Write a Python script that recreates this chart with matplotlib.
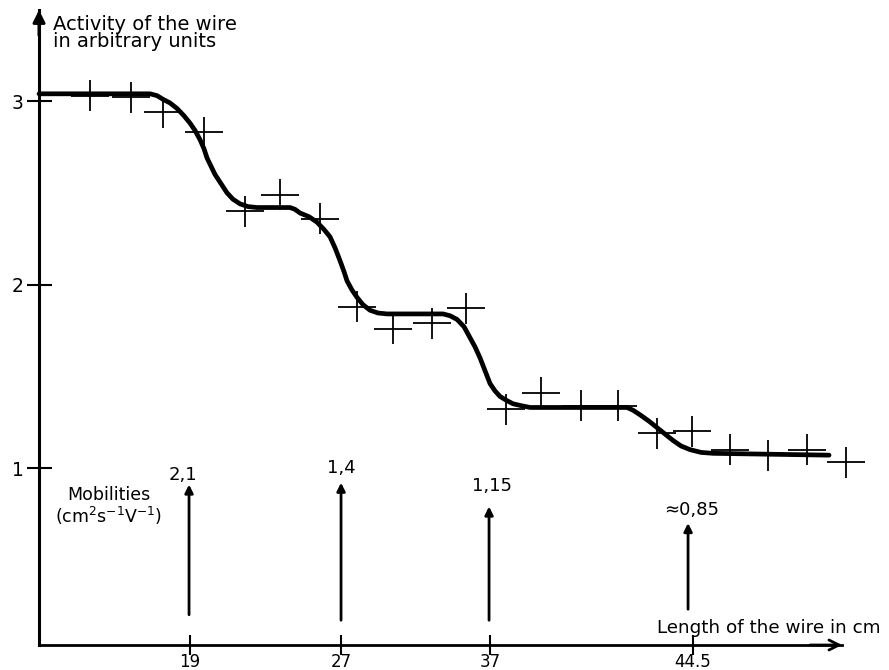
import numpy as np
import matplotlib
matplotlib.use('Agg')
import matplotlib.pyplot as plt

# x is in chart units along the wire (the printed cm scale is not linear)
point_x = [5.1, 9.2, 12.4, 16.5, 20.6, 24.1, 28.1, 31.8, 35.4, 39.3, 42.7,
           46.7, 50.2, 54.2, 57.9, 61.8, 65.3, 69.1, 72.9, 76.8, 80.7]
point_y = [3.03, 3.02, 2.94, 2.83, 2.40, 2.49, 2.36, 1.88, 1.76, 1.79, 1.87,
           1.32, 1.41, 1.34, 1.34, 1.19, 1.20, 1.10, 1.07, 1.10, 1.03]

curve_x = [0.0, 11.1, 11.8, 12.4, 13.1, 13.8, 14.5, 15.1, 15.6, 16.1, 16.5,
           16.8, 17.2, 17.6, 18.2, 18.8, 19.4, 20.1, 20.9, 21.8,
           25.1, 25.6, 26.1, 27.0, 27.8, 28.5, 29.1, 29.6, 30.1, 30.5, 30.8,
           31.3, 31.8, 32.4, 33.1, 33.9, 34.8, 40.4, 41.1, 41.8, 42.5,
           43.1, 43.6, 44.1, 44.6, 45.1, 45.6, 46.1, 46.7, 47.4, 48.2, 49.1,
           58.8, 59.4, 60.1, 61.0, 61.8, 62.6, 63.4, 64.2, 65.1, 66.2,
           67.4, 79.0]
curve_y = [3.04, 3.04, 3.03, 3.01, 2.99, 2.96, 2.92, 2.88, 2.84, 2.79, 2.74,
           2.69, 2.645, 2.60, 2.55, 2.50, 2.465, 2.44, 2.425, 2.42,
           2.42, 2.41, 2.39, 2.37, 2.34, 2.30, 2.26, 2.20, 2.13, 2.07, 2.02,
           1.97, 1.93, 1.89, 1.86, 1.845, 1.84, 1.84, 1.83, 1.81, 1.77,
           1.71, 1.66, 1.60, 1.53, 1.46, 1.42, 1.39, 1.37, 1.35, 1.34, 1.33,
           1.33, 1.315, 1.29, 1.255, 1.22, 1.185, 1.15, 1.12, 1.10, 1.085,
           1.08, 1.07]

tick_pos = [15.1, 30.2, 45.1, 65.4]
tick_labels = ['19', '27', '37', '44.5']

mob_x = [15.0, 30.2, 45.0, 64.9]
mob_base = [0.20, 0.17, 0.17, 0.23]
mob_tip = [0.91, 0.92, 0.79, 0.70]
mob_labels = ['2,1', '1,4', '1,15', '≈0,85']
mob_label_x = [14.4, 30.2, 45.3, 65.3]
mob_label_y = [0.96, 1.00, 0.90, 0.77]

plt.rcParams['font.family'] = ['DejaVu Sans']

fig = plt.figure(figsize=(8.89, 6.70), dpi=100)
ax = fig.add_axes([0.0439, 0.0373, 0.9033, 0.9478])
ax.set_xlim(0, 80.3)
ax.set_ylim(0.035, 3.497)

for s in ['top', 'right']:
    ax.spines[s].set_visible(False)
ax.spines['left'].set_linewidth(2.2)
ax.spines['bottom'].set_linewidth(2.0)

# axis arrows
ax.annotate('', xy=(0, 1.0), xytext=(0, 0.96), xycoords='axes fraction',
            arrowprops=dict(arrowstyle='-|>', lw=2.2, color='black',
                            mutation_scale=18, shrinkA=0, shrinkB=0))
ax.annotate('', xy=(1.0, 0), xytext=(0.96, 0), xycoords='axes fraction',
            arrowprops=dict(arrowstyle='->', lw=2.0, color='black',
                            mutation_scale=18, shrinkA=0, shrinkB=0))

ax.set_yticks([1, 2, 3])
ax.set_yticklabels(['1', '2', '3'])
ax.set_xticks(tick_pos)
ax.set_xticklabels(tick_labels)
ax.tick_params(axis='y', direction='inout', length=18, width=1.5, pad=2, labelsize=13.5)
ax.tick_params(axis='x', direction='inout', length=14, width=1.5, pad=-1, labelsize=12)

# fitted curve
ax.plot(curve_x, curve_y, color='black', lw=3.4, solid_joinstyle='round',
        solid_capstyle='round', clip_on=False, zorder=3)

# measured points with error crosses
ax.errorbar(point_x, point_y, xerr=1.9, yerr=0.085, fmt='none', ecolor='black',
            elinewidth=1.3, capsize=0, clip_on=False, zorder=4)

# mobility arrows
for x, b, t, lab, lx, ly in zip(mob_x, mob_base, mob_tip, mob_labels,
                                 mob_label_x, mob_label_y):
    ax.annotate('', xy=(x, t), xytext=(x, b),
                arrowprops=dict(arrowstyle='-|>', lw=2.0, color='black',
                                mutation_scale=12, shrinkA=0, shrinkB=0))
    ax.text(lx, ly, lab, ha='center', va='center', fontsize=13)

ax.text(7.0, 0.79, 'Mobilities\n(cm$^2$s$^{-1}$V$^{-1}$)', ha='center', va='center',
        fontsize=12.5, linespacing=1.1)

ax.text(1.4, 3.47, 'Activity of the wire\nin arbitrary units', ha='left', va='top',
        fontsize=14, linespacing=0.9)

ax.text(84.2, 0.13, 'Length of the wire in cm', ha='right', va='center',
        fontsize=13.2, clip_on=False)

fig.savefig('out.png', dpi=100)
